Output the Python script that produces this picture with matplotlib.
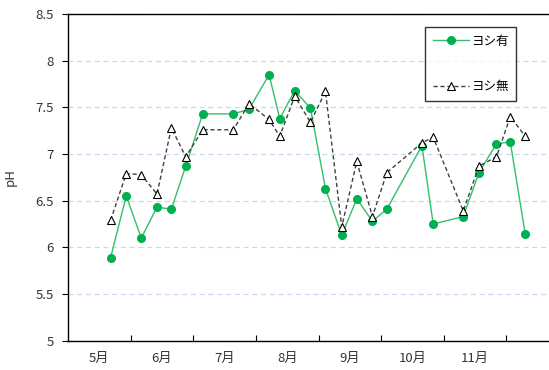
import numpy as np
import matplotlib.pyplot as plt

plt.rcParams['font.family'] = ['Noto Sans CJK JP', 'DejaVu Sans']

# x positions in month units (0 = start of May)
xPos = [0.68, 0.93, 1.17, 1.42, 1.65, 1.88, 2.15, 2.64, 2.89, 3.21, 3.38, 3.62,
        3.87, 4.11, 4.37, 4.61, 4.86, 5.09, 5.65, 5.83, 6.31, 6.56, 6.84, 7.06, 7.30]
phAri = [5.89, 6.55, 6.10, 6.43, 6.41, 6.87, 7.43, 7.43, 7.48, 7.85, 7.38, 7.68,
         7.49, 6.63, 6.13, 6.52, 6.28, 6.41, 7.09, 6.25, 6.33, 6.80, 7.11, 7.13, 6.14]
phNashi = [6.29, 6.79, 6.78, 6.57, 7.28, 6.97, 7.26, 7.26, 7.54, 7.37, 7.19, 7.62,
           7.34, 7.67, 6.22, 6.92, 6.33, 6.80, 7.12, 7.18, 6.39, 6.87, 6.97, 7.40, 7.19]
bulan = ['5月', '6月', '7月', '8月', '9月', '10月', '11月']

fig = plt.figure(figsize=(5.49, 3.70), dpi=100)
ax = fig.add_axes([68/549, 1 - 340.7/370, 1 - 68/549 + 0.002, (340.7 - 14)/370])

ax.plot(xPos, phAri, color='#33bf6c', lw=1, marker='o', ms=5.5,
        mfc='#00b050', mec='#00b050', label='ヨシ有', zorder=3)
ax.plot(xPos, phNashi, color='#404040', lw=1, ls=(0, (3, 2)), marker='^', ms=6,
        mfc='white', mec='black', mew=0.8, label='ヨシ無', zorder=4)

ax.set_ylim(5, 8.5)
ax.set_yticks(np.arange(5, 8.51, 0.5))
ax.set_yticklabels(['5', '5.5', '6', '6.5', '7', '7.5', '8', '8.5'])
ax.set_xlim(0, (549 - 68) / 62.5)
ax.set_xticks(np.arange(1, 8))
ax.set_xticklabels([])
ax.set_xticks(np.arange(7) + 0.5, minor=True)
ax.set_xticklabels(bulan, minor=True)
ax.tick_params(axis='x', which='major', direction='in', length=4, width=0.8)
ax.tick_params(axis='x', which='minor', length=0, pad=8, labelsize=9.5, labelcolor='#333333')
ax.tick_params(axis='y', direction='out', length=4, width=0.8, labelsize=9.5, pad=6,
               labelcolor='#333333')

ax.yaxis.grid(True, color='#c5d9f1', ls=(0, (4, 3)), lw=0.9)
ax.set_axisbelow(True)
ax.spines['right'].set_visible(False)
for s in ['left', 'bottom', 'top']:
    ax.spines[s].set_linewidth(1)
ax.set_ylabel('pH', fontsize=9.5, labelpad=14, color='#333333')

leg = ax.legend(loc='upper left', bbox_to_anchor=(425/549, 1 - 27/370),
                bbox_transform=fig.transFigure, frameon=True, fancybox=False,
                fontsize=9, handlelength=2.9, labelspacing=2.6, borderpad=0.6,
                handletextpad=0.15, borderaxespad=0)
leg.get_frame().set_edgecolor('black')
leg.get_frame().set_linewidth(1)

fig.savefig('out.png', dpi=100)
